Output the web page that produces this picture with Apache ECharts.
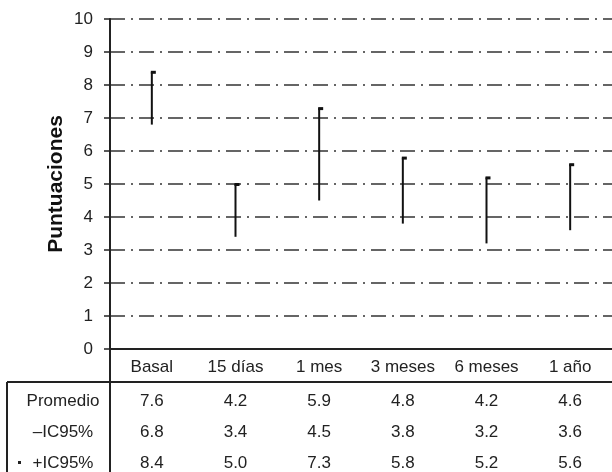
<!DOCTYPE html>
<html>
<head>
<meta charset="utf-8">
<script src="https://cdn.jsdelivr.net/npm/echarts@6/dist/echarts.min.js"></script>
<style>
  html, body { margin: 0; padding: 0; background: #fff; }
  #chart { width: 612px; height: 472px; }
</style>
</head>
<body>
<div id="chart"></div>
<script>
var categories = ['Basal', '15 días', '1 mes', '3 meses', '6 meses', '1 año'];
var promedio = [7.6, 4.2, 5.9, 4.8, 4.2, 4.6];
var icLow = [6.8, 3.4, 4.5, 3.8, 3.2, 3.6];
var icHigh = [8.4, 5.0, 7.3, 5.8, 5.2, 5.6];
var rowLabels = ['Promedio', '\u2013IC95%', '+IC95%'];
var yTicks = [0, 1, 2, 3, 4, 5, 6, 7, 8, 9, 10];

var FONT = 'Liberation Sans, Arial, sans-serif';
var INK = '#222';

function fmt(v) { return v.toFixed(1); }

// one hidden axis per table row, just for the labels
function tableAxis(values, offset) {
    return {
        type: 'category', gridIndex: 0, position: 'bottom', offset: offset,
        data: values.map(fmt),
        axisLine: { show: false }, axisTick: { show: false },
        axisLabel: { color: INK, fontSize: 17, fontFamily: FONT, margin: 10 },
        splitLine: { show: false }
    };
}

var chart = echarts.init(document.getElementById('chart'));

var option = {
    animation: false,
    grid: { left: 110, right: 0, top: 19, bottom: 122, containLabel: false },
    xAxis: [
        {
            type: 'category', data: categories, position: 'bottom',
            axisLine: { lineStyle: { color: INK, width: 2 } },
            axisTick: { show: false },
            axisLabel: { color: INK, fontSize: 17, fontFamily: FONT, margin: 10 }
        },
        tableAxis(promedio, 34),
        tableAxis(icLow, 65),
        tableAxis(icHigh, 96)
    ],
    yAxis: {
        type: 'value', min: 0, max: 10, interval: 1,
        name: 'Puntuaciones', nameLocation: 'middle', nameGap: 43, nameMoveOverlap: false,
        nameTextStyle: { color: '#111', fontSize: 21, fontWeight: 'bold', fontFamily: FONT },
        axisLine: { show: true, lineStyle: { color: INK, width: 2 } },
        axisTick: { show: true, length: 6, lineStyle: { color: INK, width: 1.5 } },
        axisLabel: { color: INK, fontSize: 17, fontFamily: FONT, margin: 17,
            formatter: function (v) { return yTicks.indexOf(v) >= 0 ? String(v) : ''; } },
        splitLine: { show: true, lineStyle: { color: '#333', width: 1.5, type: [15, 6, 2, 6] } }
    },
    series: [{
        type: 'custom',
        data: categories.map(function (c, i) { return [i, icLow[i], icHigh[i], promedio[i]]; }),
        encode: { x: 0, y: [1, 2] },
        renderItem: function (params, api) {
            var lo = api.coord([api.value(0), api.value(1)]);
            var hi = api.coord([api.value(0), api.value(2)]);
            return {
                type: 'group',
                children: [
                    { type: 'line', shape: { x1: hi[0], y1: hi[1], x2: lo[0], y2: lo[1] },
                      style: { stroke: '#111', lineWidth: 2 } },
                    { type: 'rect', shape: { x: hi[0] - 1, y: hi[1] - 1, width: 5, height: 3 },
                      style: { fill: '#111' } }
                ]
            };
        }
    }],
    graphic: [
        { type: 'line', shape: { x1: 7, y1: 382, x2: 612, y2: 382 }, style: { stroke: INK, lineWidth: 2 } },
        { type: 'line', shape: { x1: 7, y1: 382, x2: 7, y2: 472 }, style: { stroke: INK, lineWidth: 2 } },
        { type: 'line', shape: { x1: 110, y1: 350, x2: 110, y2: 472 }, style: { stroke: INK, lineWidth: 2 } },
        { type: 'rect', shape: { x: 18, y: 461, width: 3, height: 3 }, style: { fill: INK } }
    ].concat(rowLabels.map(function (t, i) {
        return { type: 'text', x: 63, y: 401 + i * 31,
                 style: { text: t, fill: INK, font: '17px ' + FONT, align: 'center', verticalAlign: 'middle' } };
    }))
};

chart.setOption(option);
</script>
</body>
</html>
